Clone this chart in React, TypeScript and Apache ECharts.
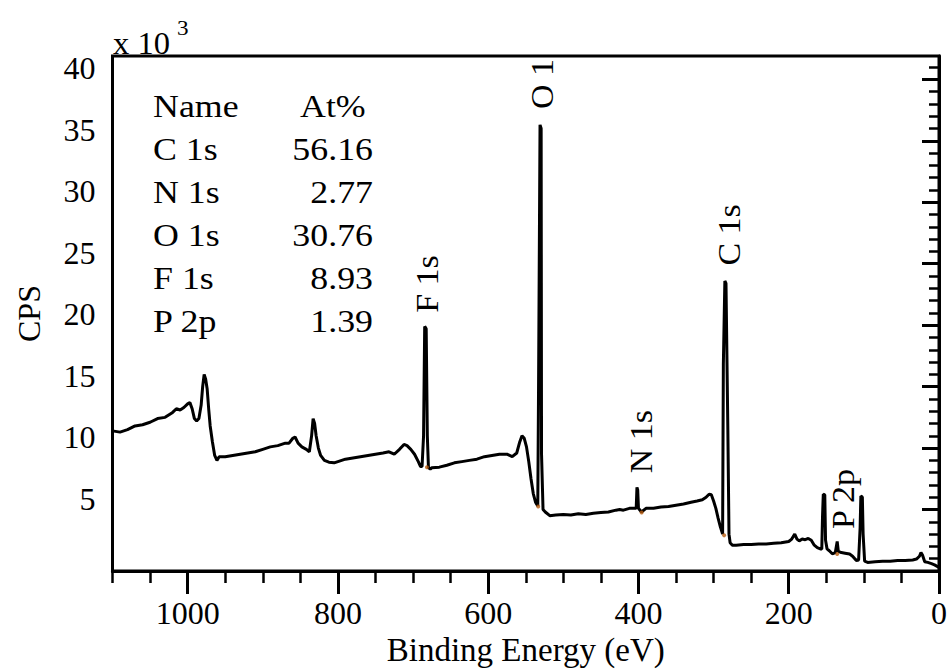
import React, { useEffect, useRef } from "react";
import * as echarts from "echarts";

// Binding energy (eV) and counts (x10^3 CPS)
const energy = [
  1100, 1090, 1080, 1070, 1060, 1050, 1040, 1030, 1020, 1015, 1010, 1005, 1000, 997, 994, 991, 988, 985, 982, 980,
  978, 976, 974, 972, 970, 967, 964, 961, 958, 950, 940, 930, 920, 910, 900, 890, 880, 870, 865, 860,
  857, 853, 848, 842, 838, 835, 833, 831, 829, 826, 823, 818, 812, 805, 800, 790, 780, 770, 760, 750,
  740, 732, 725, 718, 712, 708, 703, 698, 693, 690, 688, 686, 684.5, 682.5, 681, 679.5, 677, 675, 665, 655,
  645, 635, 625, 615, 605, 595, 585, 575, 568, 562, 558, 555, 552, 549, 546, 543, 540, 537, 534, 533,
  531, 529.5, 529, 527, 524, 518, 510, 500, 490, 480, 470, 460, 450, 440, 430, 425, 420, 412, 405,
  403, 402, 401, 400, 396, 390, 380, 370, 360, 350, 340, 330, 322, 315, 310, 306, 303, 300, 297, 294,
  291, 288, 287, 285, 283.5, 281, 279.5, 278, 275, 270, 260, 250, 240, 230, 220, 210, 200, 196, 192, 189,
  186, 182, 178, 174, 170, 166, 162, 158, 156, 155, 154, 152, 151, 149, 146, 142, 138, 135.5, 134, 130,
  125, 119, 115, 110, 107, 105, 104, 102, 101, 99, 95, 85, 75, 65, 55, 45, 35, 30, 26, 24,
  22, 19, 15, 10, 6, 3, 0,
];
const cps = [
  11.4, 11.3, 11.5, 11.8, 11.9, 12.1, 12.4, 12.5, 12.9, 13.2, 13.1, 13.3, 13.6, 13.7, 13.2, 12.4, 12.2, 12.4, 13.5, 15.0,
  16.0, 15.6, 14.8, 13.2, 11.8, 10.5, 9.4, 9.0, 9.3, 9.3, 9.4, 9.5, 9.6, 9.7, 9.9, 10.1, 10.2, 10.4, 10.4, 10.8,
  10.9, 10.4, 10.1, 9.9, 9.7, 11.0, 12.4, 12.0, 11.0, 10.0, 9.4, 9.0, 8.85, 8.8, 8.9, 9.1, 9.2, 9.3, 9.4, 9.5,
  9.6, 9.7, 9.5, 9.9, 10.3, 10.2, 9.9, 9.5, 8.9, 8.5, 8.5, 11.0, 19.9, 19.7, 11.0, 8.4, 8.3, 8.4, 8.45, 8.6,
  8.8, 8.9, 9.0, 9.1, 9.3, 9.4, 9.5, 9.5, 9.3, 9.6, 10.5, 11.0, 10.8, 10.1, 8.9, 7.5, 6.3, 5.6, 5.3, 14.5,
  36.3, 36.0, 9.5, 5.0, 4.8, 4.5, 4.55, 4.6, 4.55, 4.65, 4.6, 4.7, 4.75, 4.8, 4.95, 5.0, 4.95, 5.1, 5.1,
  5.1, 6.8, 6.6, 5.1, 4.8, 5.1, 5.1, 5.2, 5.25, 5.35, 5.45, 5.6, 5.7, 5.8, 6.0, 6.25, 6.2, 5.7, 5.1, 4.3,
  3.6, 3.0, 16.8, 23.6, 23.4, 11.4, 3.0, 2.3, 2.1, 2.1, 2.15, 2.15, 2.2, 2.2, 2.25, 2.3, 2.4, 2.6, 3.0, 2.6,
  2.45, 2.6, 2.55, 2.65, 2.5, 2.1, 1.9, 1.8, 1.8, 4.5, 6.25, 6.2, 2.5, 1.8, 1.65, 1.4, 1.5, 2.4, 1.6, 1.5,
  1.45, 1.38, 1.2, 0.85, 0.9, 3.5, 6.1, 6.0, 3.0, 0.8, 0.7, 0.75, 0.8, 0.8, 0.85, 0.85, 0.9, 0.97, 1.2, 1.5,
  1.3, 0.75, 0.7, 0.6, 0.5, 0.4, 0.3,
];

// background-region markers (orange dots at peak bases)
const markerEnergy = [681.5, 533.4, 395.8, 286.0, 135.5];
const markerCps = [8.44, 5.25, 4.76, 2.9, 1.38];

// axis ticks and labels
const xLabelValues = [0, 200, 400, 600, 800, 1000];
const xMinorTickValues = [0, 50, 100, 150, 200, 250, 300, 350, 400, 450, 500, 550, 600, 650, 700, 750, 800, 850, 900, 950, 1000, 1050, 1100];
const yLabelValues = [5, 10, 15, 20, 25, 30, 35, 40];
const yMinorTickValues = [1, 2, 3, 4, 5, 6, 7, 8, 9, 10, 11, 12, 13, 14, 15, 16, 17, 18, 19, 20, 21, 22, 23, 24, 25, 26, 27, 28, 29, 30, 31, 32, 33, 34, 35, 36, 37, 38, 39, 40, 41];

// quantification table
const tableHeader = ["Name", "At%"];
const tableNames = ["C 1s", "N 1s", "O 1s", "F 1s", "P 2p"];
const tableAt = ["56.16", "2.77", "30.76", "8.93", "1.39"];

// peak labels
const peakLabels = ["F 1s", "O 1", "C 1s", "N 1s", "P 2p"];

const FONT = "Liberation Serif";

export default function App() {
  const ref = useRef<HTMLDivElement>(null);

  useEffect(() => {
    if (!ref.current) return;
    const chart = echarts.init(ref.current, undefined, { renderer: "svg" });

    const lineData = energy.map((e, i) => [e, cps[i]]);
    const markerData = markerEnergy.map((e, i) => [e, markerCps[i]]);

    const txt = (text: string, x: number, y: number, size: number, align: string, extra: any = {}) => ({
      type: "text",
      x,
      y,
      scaleX: extra.scaleX ?? 1.12,
      rotation: extra.rotation ?? 0,
      style: {
        text,
        fontFamily: FONT,
        fontSize: size,
        fill: "#000",
        align,
        verticalAlign: "middle",
      },
      z: 10,
    });

    const rowYs = [106, 149, 192, 235, 278, 321];
    const graphics: any[] = [
      txt(tableHeader[0], 153, rowYs[0], 32, "left"),
      txt(tableHeader[1], 300, rowYs[0], 32, "left"),
      ...tableNames.map((n, i) => txt(n, 153, rowYs[i + 1], 32, "left")),
      ...tableAt.map((v, i) => txt(v, 373, rowYs[i + 1], 32, "right")),
      txt("x 10", 113, 44, 31, "left", { scaleX: 1.05 }),
      txt("3", 177, 28, 22, "left", { scaleX: 1.05 }),
    ];
    const peakPos = [
      [427.5, 284],
      [542.5, 84],
      [729, 235],
      [641.7, 441.7],
      [843, 499],
    ];
    peakLabels.forEach((p, i) => {
      graphics.push(txt(p, peakPos[i][0], peakPos[i][1], 32, "center", { rotation: Math.PI / 2, scaleX: 1.06 }));
    });

    const axisLabelStyle = { color: "#000", fontFamily: FONT, fontSize: 32 };

    chart.setOption({
      animation: false,
      backgroundColor: "#fff",
      grid: {
        left: 112.5,
        right: 12,
        top: 56,
        bottom: 101,
        show: true,
        borderColor: "#000",
        borderWidth: 3,
        backgroundColor: "transparent",
      },
      xAxis: [
        {
          type: "value",
          position: "bottom",
          min: 0,
          max: 1100,
          inverse: true,
          axisLine: { show: true, lineStyle: { color: "#000", width: 3 } },
          axisTick: { show: true, customValues: xMinorTickValues, length: 12, lineStyle: { color: "#000", width: 2.5 } },
          axisLabel: { customValues: xLabelValues, margin: 26, formatter: (v: number) => String(v), ...axisLabelStyle },
          splitLine: { show: false },
          name: "Binding Energy (eV)",
          nameLocation: "middle",
          nameGap: 60,
          nameTextStyle: { color: "#000", fontFamily: FONT, fontSize: 33 },
        },
        {
          type: "value",
          position: "bottom",
          min: 0,
          max: 1100,
          inverse: true,
          axisLine: { show: false },
          axisTick: { show: true, customValues: xLabelValues, length: 23, lineStyle: { color: "#000", width: 3 } },
          axisLabel: { show: false },
          splitLine: { show: false },
        },
      ],
      yAxis: [
        {
          type: "value",
          position: "left",
          min: 0,
          max: 41.9,
          axisLine: { show: true, lineStyle: { color: "#000", width: 3 } },
          axisTick: { show: true, customValues: yMinorTickValues, length: 10, lineStyle: { color: "#000", width: 2.5 } },
          axisLabel: { customValues: yLabelValues, margin: 17, verticalAlign: "bottom", lineHeight: 22, formatter: (v: number) => String(v), ...axisLabelStyle },
          splitLine: { show: false },
          name: "CPS",
          nameLocation: "middle",
          nameGap: 68,
          nameRotate: 90,
          nameTextStyle: { color: "#000", fontFamily: FONT, fontSize: 32 },
        },
        {
          type: "value",
          position: "left",
          min: 0,
          max: 41.9,
          axisLine: { show: false },
          axisTick: { show: true, customValues: yLabelValues, length: 17, lineStyle: { color: "#000", width: 3 } },
          axisLabel: { show: false },
          splitLine: { show: false },
        },
      ],
      series: [
        {
          type: "line",
          xAxisIndex: 0,
          yAxisIndex: 0,
          data: lineData,
          showSymbol: false,
          symbol: "none",
          lineStyle: { color: "#000", width: 3 },
          z: 3,
        },
        {
          type: "scatter",
          xAxisIndex: 0,
          yAxisIndex: 0,
          data: markerData,
          symbolSize: 4,
          itemStyle: { color: "#b85c10" },
          z: 4,
        },
      ],
      graphic: graphics,
    });

    return () => chart.dispose();
  }, []);

  return <div ref={ref} style={{ position: "fixed", left: 0, top: 0, width: 951, height: 672 }} />;
}
